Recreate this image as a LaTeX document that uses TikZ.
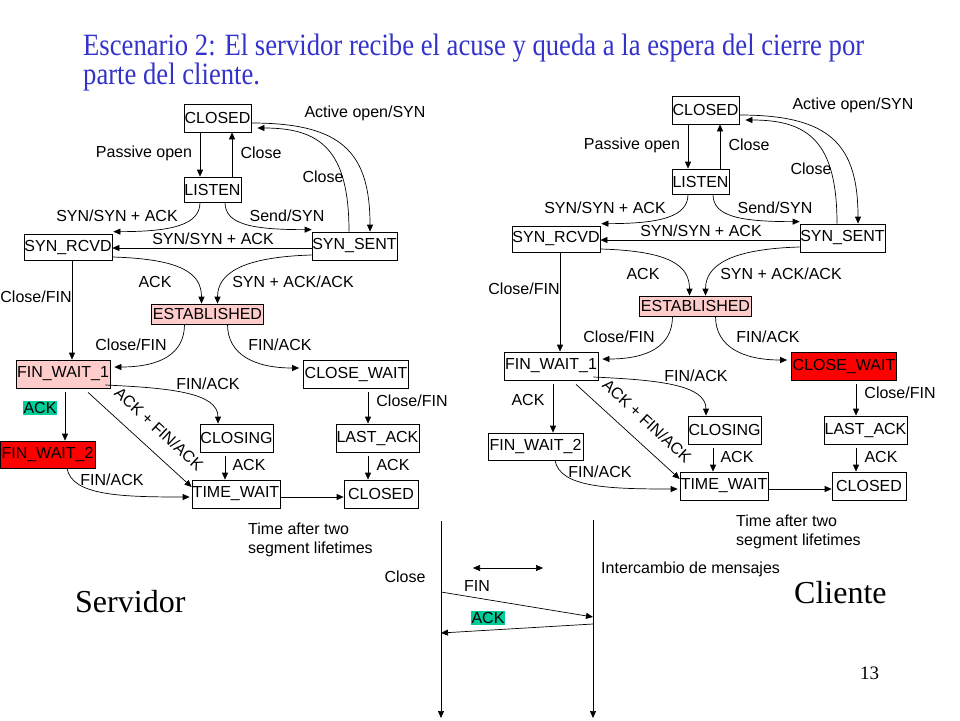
\documentclass[tikz,border=0pt]{standalone}
\usepackage{fontspec}
\setmainfont{Liberation Sans}
\newfontfamily\serifx{Liberation Serif}
\newfontfamily\titlefont[FakeStretch=0.86]{Liberation Serif}
\usetikzlibrary{arrows.meta,calc}
\definecolor{titleblue}{RGB}{51,51,204}
\definecolor{pinkfill}{RGB}{255,204,204}
\definecolor{redfill}{RGB}{255,0,0}
\definecolor{ackgreen}{RGB}{0,204,153}
\newcommand{\lfont}{\fontsize{16}{19}\selectfont}

\newcommand{\fsmdiagram}[1]{%
 % states
 \node[st, minimum width=67pt, minimum height=28pt] (#1c) at (217.5,118) {CLOSED};
 \node[st, minimum width=57pt, minimum height=25pt] (#1l) at (212.5,189.5) {LISTEN};
 \node[st, minimum width=88pt, minimum height=26pt] (#1r) at (68,247) {SYN\_RCVD};
 \node[st, minimum width=85pt, minimum height=28pt] (#1s) at (354.5,246) {SYN\_SENT};
 \node[st, stEst, minimum width=112pt, minimum height=20pt] (#1e) at (207.5,314) {ESTABLISHED};
 \node[st, stFw1, minimum width=94pt, minimum height=28pt] (#1f1) at (63,374) {FIN\_WAIT\_1};
 \node[st, stCw, minimum width=105pt, minimum height=28pt] (#1cw) at (356,374) {CLOSE\_WAIT};
 \node[st, minimum width=73pt, minimum height=28pt] (#1cl) at (236.5,438) {CLOSING};
 \node[st, minimum width=83pt, minimum height=28pt] (#1la) at (377.5,438) {LAST\_ACK};
 \node[st, stFw2, minimum width=95pt, minimum height=27pt] (#1f2) at (47.5,454.5) {FIN\_WAIT\_2};
 \node[st, minimum width=88pt, minimum height=28pt] (#1tw) at (236,494) {TIME\_WAIT};
 \node[st, minimum width=74pt, minimum height=28pt] (#1c2) at (381,494) {CLOSED};
 % transitions
 \draw[arr] ([xshift=-17.5pt]#1c.south) -- ([xshift=-12.5pt]#1l.north);
 \draw[arr] ([xshift=19.5pt]#1l.north) -- ([xshift=14.5pt]#1c.south);
 \draw[arr] ([yshift=-5pt]#1c.east) .. controls +(90,0) and +(0,-80) .. ([xshift=15.5pt]#1s.north);
 \draw[arr] ([xshift=-5.5pt]#1s.north) .. controls +(0,-82) and +(63,0) .. ([xshift=6pt,yshift=-10pt]#1c.east);
 \draw[arr] ([xshift=-12.5pt]#1l.south) .. controls +(0,22) and +(60,0) .. ([xshift=1pt,yshift=2pt]#1r.north east);
 \draw[arr] ([xshift=12.5pt]#1l.south) .. controls +(0,22) and +(-60,0) .. ([yshift=2pt]#1s.north west);
 \draw[arr] ([yshift=-2pt]#1s.west) -- ([yshift=-2pt]#1s.west -| #1r.east);
 \draw[arr] ([yshift=-10pt]#1r.east) .. controls +(70,2) and +(0,-30) .. ([xshift=-6pt]#1e.north);
 \draw[arr] ([yshift=-9pt]#1s.west) .. controls +(-70,2) and +(0,-30) .. ([xshift=10pt]#1e.north);
 \draw[arr] ([xshift=4pt]#1r.south) -- ([xshift=4pt]#1r.south |- #1f1.north);
 \draw[arr] ([xshift=-23pt]#1e.south) .. controls +(0,30) and +(45,0) .. ([xshift=4pt,yshift=7pt]#1f1.east);
 \draw[arr] ([xshift=20pt]#1e.south) .. controls +(0,30) and +(-45,0) .. ([xshift=-4pt,yshift=6pt]#1cw.west);
 \draw[arr] ([xshift=-5pt,yshift=-11pt]#1f1.east) .. controls +(65,3) and +(0,-31) .. ([xshift=-18.5pt]#1cl.north);
 \draw[arr] ([xshift=2pt,yshift=-4pt]#1f1.south) -- ([xshift=2pt]#1f1.south |- #1f2.north);
 \draw[arr] ([xshift=25pt,yshift=-4pt]#1f1.south) -- ([yshift=7pt]#1tw.west);
 \draw[arr] ([xshift=12pt,yshift=-4pt]#1cw.south) -- ([xshift=12pt]#1cw.south |- #1la.north);
 \draw[arr] ([xshift=-11.5pt,yshift=-4pt]#1cl.south) -- ([xshift=-11.5pt]#1cl.south |- #1tw.north);
 \draw[arr] ([xshift=-9.5pt,yshift=-4pt]#1la.south) -- ([xshift=-9.5pt]#1la.south |- #1c2.north);
 \draw[arr] ([xshift=19.5pt]#1f2.south) .. controls +(5,27) and +(-70,0) .. ([xshift=-2pt,yshift=-3pt]#1tw.west);
 \draw[arr] ([yshift=-3pt]#1tw.east) -- ([yshift=-3pt]#1tw.east -| #1c2.west);
 % labels
 \node[lab] (#1tActive) at (365,113) {Active open/SYN};
 \node[lab] (#1tPassive) at (144,153) {Passive open};
 \node[lab] (#1tCloseUp) at (261,153) {Close};
 \node[lab] (#1tCloseCurve) at (323,177) {Close};
 \node[lab] (#1tSynAckA) at (117,216) {SYN/SYN + ACK};
 \node[lab] (#1tSend) at (287,216) {Send/SYN};
 \node[lab] (#1tSynAckB) at (213,239) {SYN/SYN + ACK};
 \node[lab] (#1tAckA) at (155,282) {ACK};
 \node[lab] (#1tSynAckAck) at (293,282) {SYN + ACK/ACK};
 \node[lab] (#1tCloseFinA) at (36,297) {Close/FIN};
 \node[lab] (#1tCloseFinB) at (131,345) {Close/FIN};
 \node[lab] (#1tFinAckA) at (280,345) {FIN/ACK};
 \node[lab] (#1tFinAckB) at (208,384) {FIN/ACK};
 \node[lab] (#1tCloseFinC) at (412,401) {Close/FIN};
 \node[lab, stAck] (#1tAckB) at (40,408) {ACK};
 \node[lab, rotate=-43] (#1tAckFin) at (159,429) {ACK + FIN/ACK};
 \node[lab] (#1tAckC) at (249,465) {ACK};
 \node[lab] (#1tAckD) at (393,465) {ACK};
 \node[lab] (#1tFinAckC) at (112,480) {FIN/ACK};
 \node[lab, anchor=north west, align=left] (#1tTime) at (247,522) {Time after two\\segment lifetimes};
}

\begin{document}
\begin{tikzpicture}[x=1pt,y=-1pt,
  st/.style={draw, line width=0.7pt, rectangle, inner sep=0pt, font=\lfont},
  lab/.style={inner sep=1pt, font=\lfont},
  arr/.style={line width=0.7pt, -{Triangle[length=7pt,width=6pt]}},
  darr/.style={line width=0.7pt, {Triangle[length=7pt,width=6pt]}-{Triangle[length=7pt,width=6pt]}},
  stEst/.style={}, stFw1/.style={}, stFw2/.style={}, stCw/.style={}, stAck/.style={}]
\useasboundingbox (0,0) rectangle (960,720);
\fill[white] (0,0) rectangle (960,720);

% title
\node[anchor=base west, inner sep=0pt, text=titleblue, font=\titlefont\fontsize{31}{31}\selectfont] (title1) at (83,55) {Escenario 2: El servidor recibe el acuse y queda a la espera del cierre por};
\node[anchor=base west, inner sep=0pt, text=titleblue, font=\titlefont\fontsize{31}{31}\selectfont] (title2) at (83,84) {parte del cliente.};

% left (server)
\begin{scope}[stEst/.style={fill=pinkfill}, stFw1/.style={fill=pinkfill}, stFw2/.style={fill=redfill}, stAck/.style={fill=ackgreen}]
\fsmdiagram{L}
\end{scope}

% right (client)
\begin{scope}[shift={(488,-8)}, stEst/.style={fill=pinkfill}, stCw/.style={fill=redfill}]
\fsmdiagram{R}
\end{scope}

% captions
\node[anchor=base west, inner sep=0pt, font=\serifx\fontsize{32}{32}\selectfont] (servidor) at (75,612) {Servidor};
\node[anchor=base west, inner sep=0pt, font=\serifx\fontsize{32}{32}\selectfont] (cliente) at (794,603) {Cliente};
\node[anchor=base west, inner sep=0pt, font=\serifx\fontsize{19}{19}\selectfont] (pagenum) at (860,679) {13};

% message exchange
\coordinate (srvTop) at (441,521);
\coordinate (srvBot) at (441,718);
\coordinate (cliTop) at (593,520);
\coordinate (cliBot) at (593,718);
\draw[arr] (srvTop) -- (srvBot);
\draw[arr] (cliTop) -- (cliBot);
\coordinate (dblA) at (473,568);
\coordinate (dblB) at (543,568);
\draw[darr] (dblA) -- (dblB);
\coordinate (finS) at (441,592);
\coordinate (finE) at (593,617);
\draw[arr] (finS) -- (finE);
\coordinate (ackS) at (593,624);
\coordinate (ackE) at (441,633);
\draw[arr] (ackS) -- (ackE);
\node[lab] (tClose) at (405,577) {Close};
\node[lab] (tFin) at (477,586) {FIN};
\node[lab, fill=ackgreen] (tAck) at (488,618) {ACK};
\node[lab, anchor=west] (tInter) at (600,569) {Intercambio de mensajes};
\end{tikzpicture}
\end{document}
